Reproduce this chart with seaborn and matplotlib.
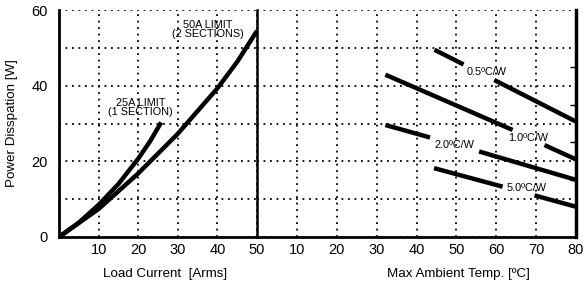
import numpy as np
import pandas as pd
import matplotlib
matplotlib.use("Agg")
import matplotlib.pyplot as plt
import seaborn as sns

sns.set_theme(style="white")
plt.rcParams['font.family'] = ['Liberation Sans', 'DejaVu Sans']
plt.rcParams['text.color'] = 'black'
plt.rcParams['axes.labelcolor'] = 'black'
plt.rcParams['xtick.color'] = 'black'
plt.rcParams['ytick.color'] = 'black'

# Left panel: power dissipation vs load current
i25_current = [0, 5, 10, 15, 20, 23, 25.8]
i25_power = [0, 3.8, 8.5, 14.0, 20.7, 25.3, 30.3]
i50_current = [0, 5, 10, 20, 30, 40, 45, 50]
i50_power = [0, 3.7, 7.4, 16.8, 27.3, 39.3, 46.3, 54.5]

# Right panel: derating lines (segments, gaps around labels)
r05_temp = [[44.5, 51.8], [59.5, 80.0]]
r05_power = [[49.5, 45.6], [41.5, 30.5]]
r10_temp = [[32.2, 64.1], [72.1, 80.0]]
r10_power = [[42.9, 28.3], [24.3, 20.5]]
r20_temp = [[32.2, 43.4], [55.7, 80.0]]
r20_power = [[29.6, 26.3], [22.6, 15.1]]
r50_temp = [[44.4, 61.6], [69.6, 80.0]]
r50_power = [[18.2, 13.3], [11.0, 8.0]]

left_ticks = [10, 20, 30, 40, 50]
right_ticks = [10, 20, 30, 40, 50, 60, 70, 80]
y_ticks = [0, 10, 20, 30, 40, 50, 60]
y_ticklabels = ['0', '', '20', '', '40', '', '60']

W, H = 583, 286
fig = plt.figure(figsize=(W / 100, H / 100), dpi=100)
ax1 = fig.add_axes([59 / W, 49 / H, 198 / W, 227 / H])
ax2 = fig.add_axes([257 / W, 49 / H, 319 / W, 227 / H])
ax1.set_zorder(2)
ax1.patch.set_alpha(0)

dot = (0, (1, 2.6))
for ax in (ax1, ax2):
    ax.grid(True, color='black', linestyle=dot, linewidth=1.3)
    ax.set_axisbelow(True)
    ax.set_ylim(0, 60)
    ax.spines['top'].set_visible(False)
    ax.tick_params(axis='x', length=0, labelsize=10.5, pad=4, colors='black')
    for s in ax.spines.values():
        s.set_color('black')
ax2.set_facecolor('white')

line_kw = dict(color='black', linewidth=3.2, estimator=None, sort=False,
               solid_capstyle='butt')

# left data
df25 = pd.DataFrame({'x': i25_current, 'y': i25_power})
df50 = pd.DataFrame({'x': i50_current, 'y': i50_power})
sns.lineplot(data=df25, x='x', y='y', ax=ax1, **line_kw)
sns.lineplot(data=df50, x='x', y='y', ax=ax1, **line_kw)
ax1.set_xlim(0, 50)
ax1.set_xticks(left_ticks)
ax1.set_yticks(y_ticks)
ax1.set_yticklabels(y_ticklabels)
ax1.tick_params(axis='y', length=0, labelsize=10.5, pad=8, colors='black')
ax1.spines['left'].set_linewidth(2.0)
ax1.spines['bottom'].set_linewidth(2.0)
ax1.spines['right'].set_linewidth(1.8)
ax1.set_xlabel('Load Current  [Arms]', fontsize=9.6)
ax1.xaxis.set_label_coords(0.535, -0.135)
ax1.set_ylabel('Power Disspation [W]', fontsize=9.6)
ax1.yaxis.set_label_coords(-0.205, 0.5)
ax1.text(37.5, 54.8, '50A LIMIT\n(2 SECTIONS)', fontsize=7.8, ha='center',
         va='center', linespacing=0.85)
ax1.text(20.6, 34.2, '25A LIMIT\n(1 SECTION)', fontsize=7.8, ha='center',
         va='center', linespacing=0.85)

# right data
rows = []
for name, ts, ps in [('0.5', r05_temp, r05_power), ('1.0', r10_temp, r10_power),
                     ('2.0', r20_temp, r20_power), ('5.0', r50_temp, r50_power)]:
    for k, (tt, pp) in enumerate(zip(ts, ps)):
        for t, p in zip(tt, pp):
            rows.append({'t': t, 'p': p, 'seg': f'{name}-{k}'})
dfr = pd.DataFrame(rows)
sns.lineplot(data=dfr, x='t', y='p', units='seg', ax=ax2, **line_kw)
ax2.set_xlim(0, 80)
ax2.set_xticks(right_ticks)
ax2.set_yticks(y_ticks)
ax2.set_yticklabels([])
ax2.yaxis.tick_right()
ax2.set_yticks([15, 25, 35, 45], minor=True)
ax2.tick_params(axis='y', which='major', length=0)
ax2.tick_params(axis='y', which='minor', direction='in', length=4, width=1,
                right=True, left=False, color='black')
ax2.spines['left'].set_visible(False)
ax2.spines['right'].set_linewidth(2.5)
ax2.spines['bottom'].set_linewidth(2.0)
ax2.set_xlabel('Max Ambient Temp. [ºC]', fontsize=9.6)
ax2.xaxis.set_label_coords(0.63, -0.135)
ax2.set_ylabel('')
lab_kw = dict(fontsize=7.8, ha='center', va='center')
ax2.text(57.7, 43.5, '0.5ºC/W', **lab_kw)
ax2.text(67.9, 26.2, '1.0ºC/W', **lab_kw)
ax2.text(49.5, 24.2, '2.0ºC/W', **lab_kw)
ax2.text(67.5, 12.9, '5.0ºC/W', **lab_kw)

fig.savefig('out.png', dpi=100, facecolor='white')
